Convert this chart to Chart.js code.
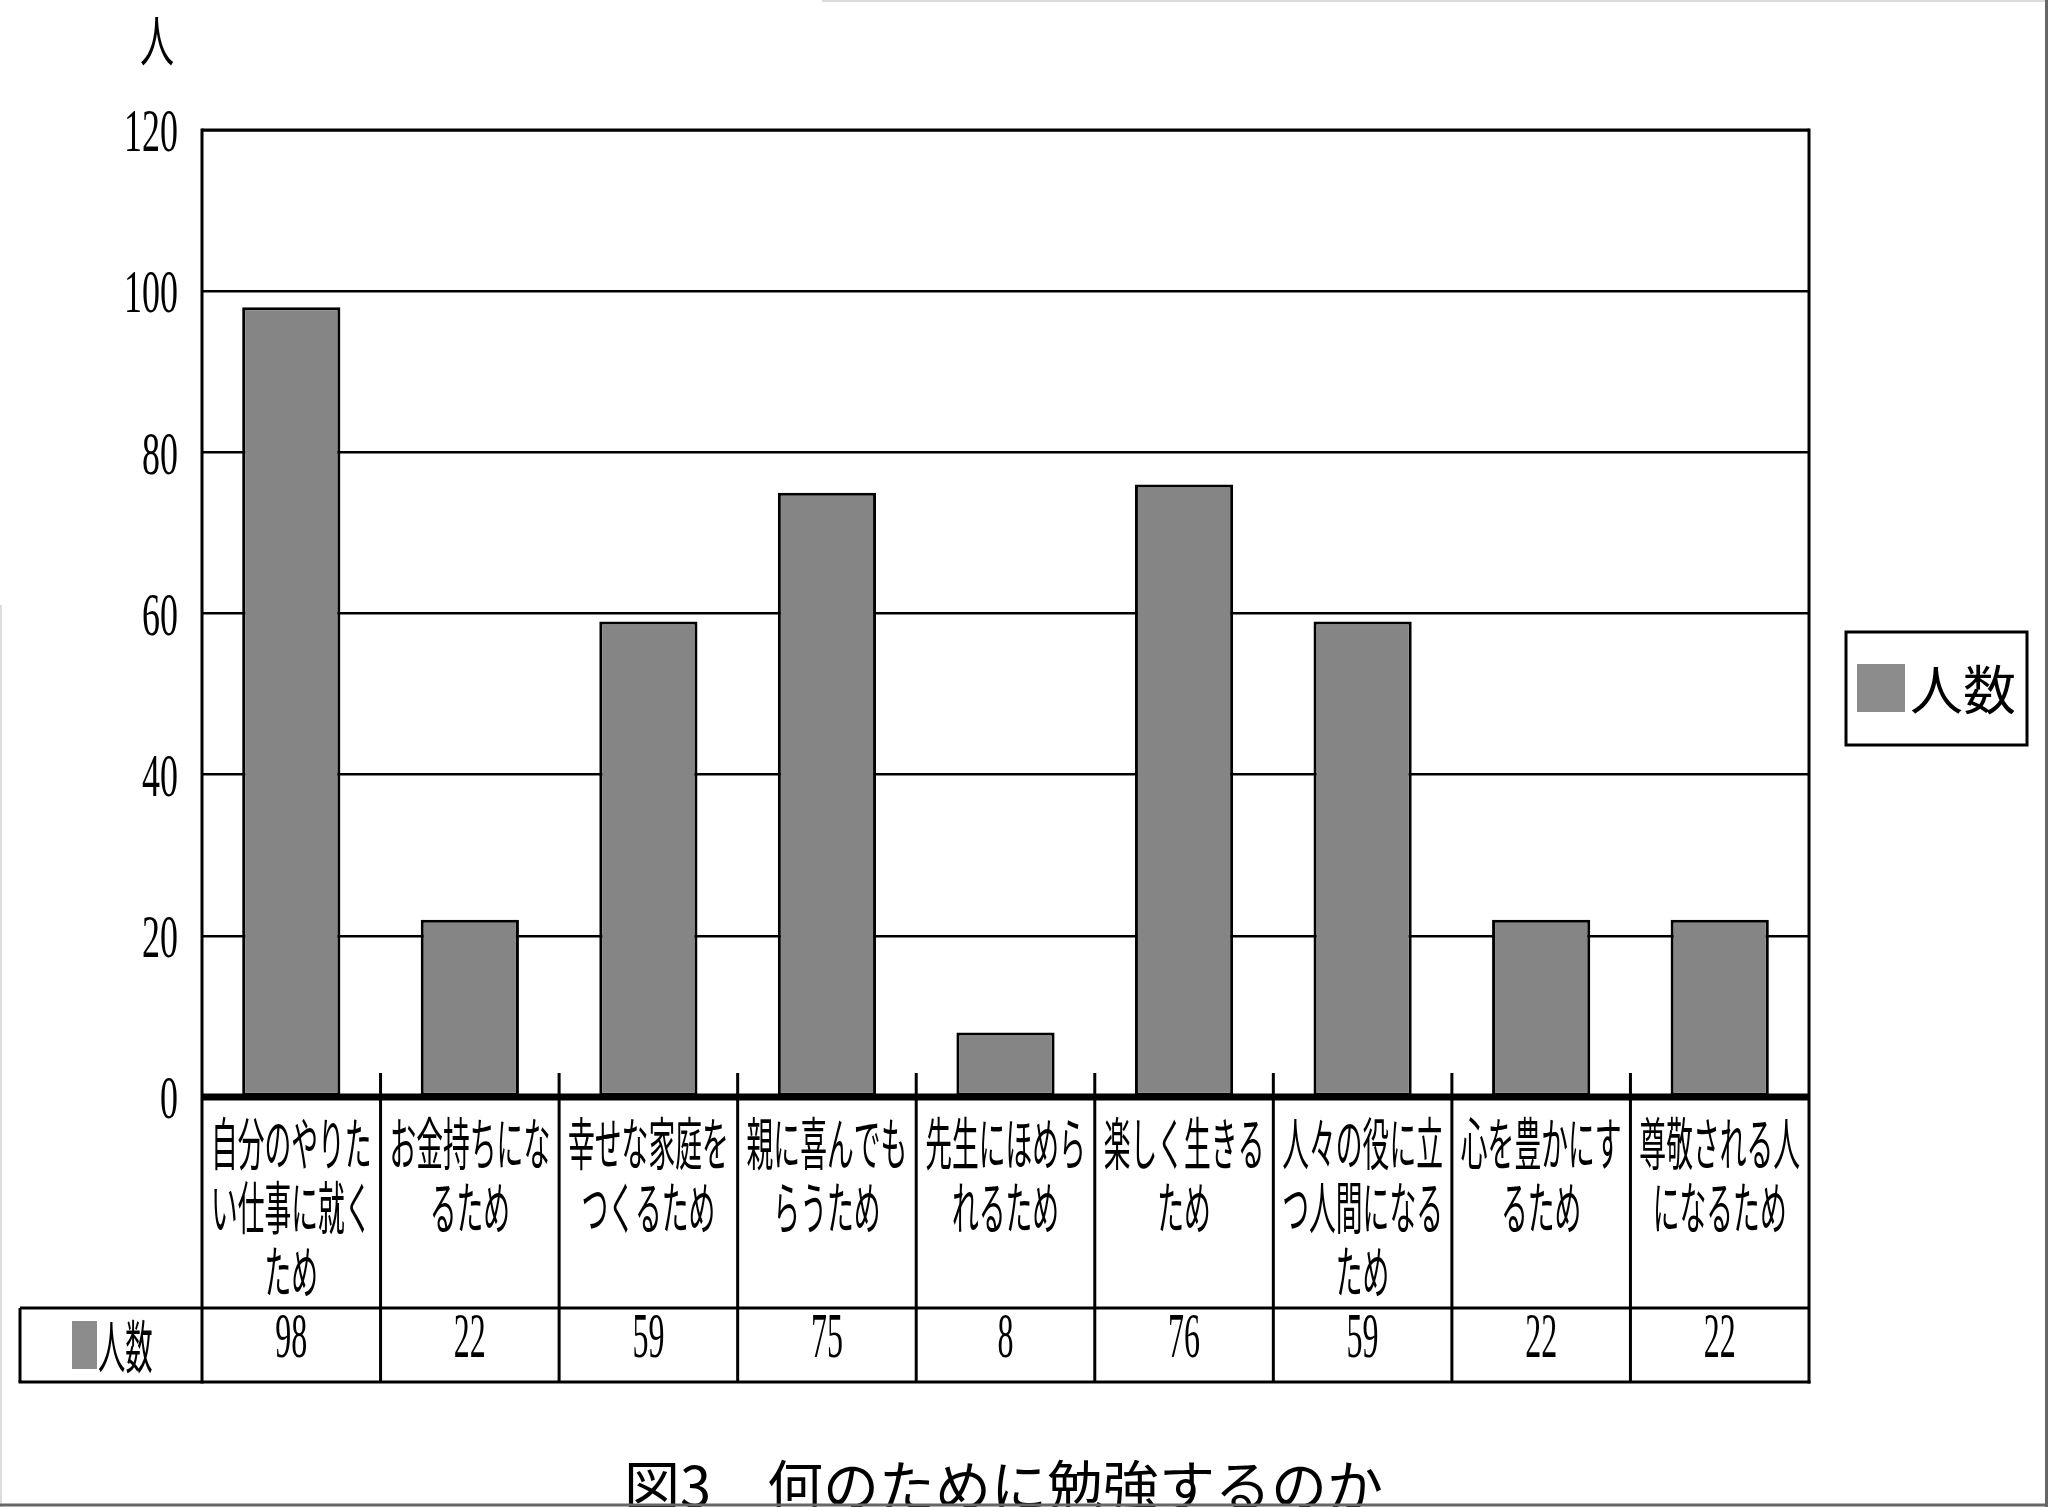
<!DOCTYPE html>
<html>
<head>
<meta charset="utf-8">
<script src="https://cdn.jsdelivr.net/npm/chart.js@4.4.1/dist/chart.umd.min.js"></script>
<style>
  body { margin: 0; background: #fff; }
  canvas { display: block; }
</style>
</head>
<body>
<canvas id="studyChart" width="2048" height="1507"></canvas>
<script>
// categories (multi-line labels as printed in the table)
var categories = [
    ['自分のやりた', 'い仕事に就く', 'ため'],
    ['お金持ちにな', 'るため'],
    ['幸せな家庭を', 'つくるため'],
    ['親に喜んでも', 'らうため'],
    ['先生にほめら', 'れるため'],
    ['楽しく生きる', 'ため'],
    ['人々の役に立', 'つ人間になる', 'ため'],
    ['心を豊かにす', 'るため'],
    ['尊敬される人', 'になるため']
];
var counts = [98, 22, 59, 75, 8, 76, 59, 22, 22];
var yTicks = [0, 20, 40, 60, 80, 100, 120];
var seriesName = '人数';
var unitLabel = '人';
var titleText = '図3　何のために勉強するのか';

var CJK = '"Noto Sans CJK JP", sans-serif';
var NUM = '"Liberation Serif", serif';

// draw text squeezed horizontally (the original uses a narrow font)
function squeezeText(ctx, text, x, y, font, sx, align) {
    ctx.save();
    ctx.translate(x, y);
    ctx.scale(sx, 1);
    ctx.font = font;
    ctx.fillStyle = '#000';
    ctx.textAlign = align || 'center';
    ctx.textBaseline = 'middle';
    ctx.fillText(text, 0, 0);
    ctx.restore();
}

function line(ctx, x1, y1, x2, y2, w, color) {
    ctx.save();
    ctx.strokeStyle = color || '#000';
    ctx.lineWidth = w;
    ctx.beginPath();
    ctx.moveTo(x1, y1);
    ctx.lineTo(x2, y2);
    ctx.stroke();
    ctx.restore();
}

var tablePlugin = {
    id: 'excelTable',
    afterDatasetsDraw: function(chart) {
        var ctx = chart.ctx;
        var area = chart.chartArea;
        var xs = chart.scales.x;
        var ys = chart.scales.y;
        var half = (xs.getPixelForValue(1) - xs.getPixelForValue(0)) / 2;
        var rowTop = 1308, rowBottom = 1382, tableLeft = 20;

        // thick baseline at zero
        var y0 = ys.getPixelForValue(0);
        line(ctx, area.left, y0, area.right, y0, 7);

        // plot frame (top, left, right) extended through the table
        line(ctx, area.left, area.top, area.right, area.top, 3);
        line(ctx, area.left, area.top - 1.5, area.left, rowBottom + 1.5, 3);
        line(ctx, area.right, area.top - 1.5, area.right, rowBottom + 1.5, 3);

        // category separators: short tick inside plot + table column line
        for (var i = 1; i < categories.length; i++) {
            var bx = xs.getPixelForValue(i) - half;
            line(ctx, bx, y0 - 24, bx, rowBottom, 3);
        }

        // table rows
        line(ctx, tableLeft, rowTop, area.right, rowTop, 3);
        line(ctx, tableLeft - 1.5, rowBottom, area.right + 1.5, rowBottom, 3);
        line(ctx, tableLeft, rowTop, tableLeft, rowBottom, 3);

        // category labels
        categories.forEach(function(lines, i) {
            var cx = xs.getPixelForValue(i);
            lines.forEach(function(txt, k) {
                squeezeText(ctx, txt, cx, 1143 + k * 64, '400 57px ' + CJK, 0.47);
            });
            squeezeText(ctx, String(counts[i]), cx, 1340, '400 64px ' + NUM, 0.5);
        });

        // series key in the table
        ctx.fillStyle = '#8c8c8c';
        ctx.fillRect(72, 1321, 25, 48);
        squeezeText(ctx, seriesName, 98, 1346, '400 57px ' + CJK, 0.48, 'left');

        // y tick labels
        ys.ticks.forEach(function(t) {
            var py = ys.getPixelForValue(t.value);
            squeezeText(ctx, String(t.value), 178, py + 5, '400 62px ' + NUM, 0.58, 'right');
        });
        squeezeText(ctx, unitLabel, 157, 40, '400 55px ' + CJK, 0.62);

        // legend box
        ctx.save();
        ctx.strokeStyle = '#000';
        ctx.lineWidth = 3;
        ctx.strokeRect(1846, 632, 181, 113);
        ctx.fillStyle = '#8c8c8c';
        ctx.fillRect(1857, 664, 48, 48);
        ctx.restore();
        squeezeText(ctx, seriesName, 1910, 690, '400 53px ' + CJK, 1, 'left');

        // caption (cut by the bottom edge as in the scan)
        squeezeText(ctx, titleText, 624, 1486, '400 56px ' + CJK, 1.0, 'left');

        // faint page frame from the scan
        line(ctx, 822, 1, 2048, 1, 2, '#dcdcdc');
        line(ctx, 1, 605, 1, 1507, 2, '#dcdcdc');
        line(ctx, 2046.5, 0, 2046.5, 1507, 3, '#666');
        line(ctx, 0, 1505, 2048, 1505, 3, '#666');
    }
};

var ctx = document.getElementById('studyChart').getContext('2d');
var studyChart = new Chart(ctx, {
    type: 'bar',
    data: {
        labels: categories,
        datasets: [{
            label: seriesName,
            data: counts,
            backgroundColor: '#858585',
            borderColor: '#000',
            borderWidth: 3,
            borderSkipped: false,
            barPercentage: 0.55,
            categoryPercentage: 1.0
        }]
    },
    options: {
        responsive: false,
        animation: false,
        devicePixelRatio: 1,
        layout: {
            padding: { left: 202, top: 130, right: 239, bottom: 410 }
        },
        plugins: {
            legend: { display: false },
            tooltip: { enabled: false }
        },
        scales: {
            x: {
                grid: { display: false },
                border: { display: false },
                ticks: { display: false },
                afterFit: function(scale) { scale.height = 0; }
            },
            y: {
                min: 0,
                max: 120,
                afterBuildTicks: function(scale) {
                    scale.ticks = yTicks.map(function(v) { return { value: v }; });
                },
                grid: { color: '#000', lineWidth: 2.5, drawTicks: false },
                border: { display: false },
                ticks: { display: false },
                afterFit: function(scale) { scale.width = 0; }
            }
        }
    },
    plugins: [tablePlugin]
});
</script>
</body>
</html>
